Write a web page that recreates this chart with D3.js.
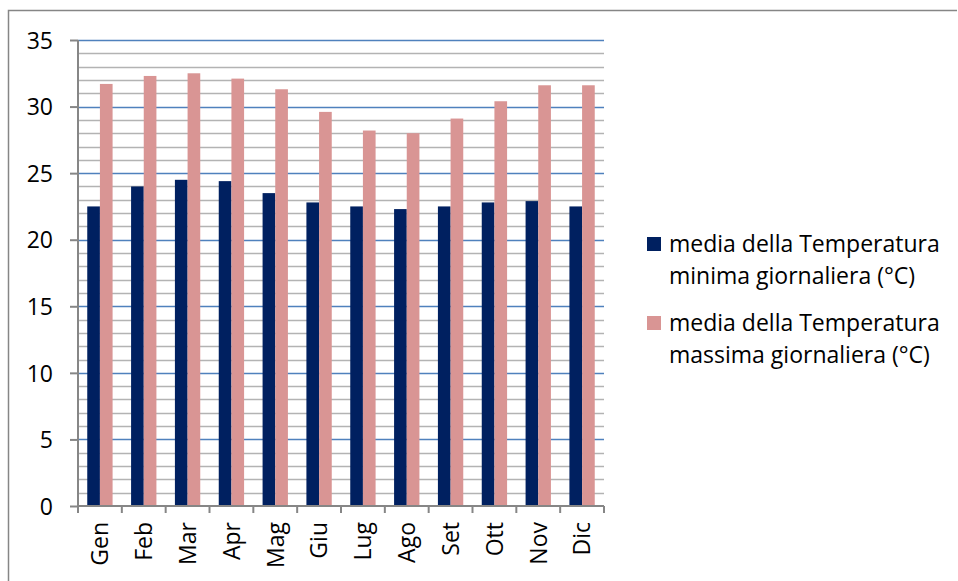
<!DOCTYPE html>
<html><head><meta charset="utf-8">
<script src="https://cdn.jsdelivr.net/npm/d3@7"></script>
<style>
html,body{margin:0;padding:0;background:#fff;}
svg{display:block;font-family:"Open Sans","Noto Sans",sans-serif;}
</style></head>
<body><svg id="c" width="958" height="581"></svg>
<script>
const months = ["Gen","Feb","Mar","Apr","Mag","Giu","Lug","Ago","Set","Ott","Nov","Dic"];
const tMin = [22.5,24.0,24.5,24.4,23.5,22.8,22.5,22.3,22.5,22.8,22.9,22.5];
const tMax = [31.7,32.3,32.5,32.1,31.3,29.6,28.2,28.0,29.1,30.4,31.6,31.6];
const seriesNames = [
  ["media della Temperatura","minima giornaliera (°C)"],
  ["media della Temperatura","massima giornaliera (°C)"]
];
const colors = ["#002060","#D99594"];
const yTicks = [0,5,10,15,20,25,30,35];

const FONT = '"Open Sans","Noto Sans",sans-serif';
const svg = d3.select("#c");
const L=78, R=604, T=40, B=506;
const x = d3.scaleBand().domain(months).range([L,R]);
const y = d3.scaleLinear().domain([0,35]).range([B,T]);
const xs = d3.scaleBand().domain([0,1]).range([0,x.bandwidth()]).paddingInner(0).paddingOuter(0.73);

// outer border
svg.append("path").attr("d","M8.5,600V10.5H957").attr("fill","none").attr("stroke","#868686").attr("stroke-width",1.5);

// minor gridlines
const minor = d3.range(1,35).filter(v=>v%5!==0);
svg.append("g").selectAll("line").data(minor).join("line")
  .attr("x1",L).attr("x2",R).attr("y1",d=>Math.round(y(d))+0.5).attr("y2",d=>Math.round(y(d))+0.5)
  .attr("stroke","#B3B3B3").attr("stroke-width",1.6);
// major gridlines
svg.append("g").selectAll("line").data(yTicks.filter(v=>v>0)).join("line")
  .attr("x1",L).attr("x2",R).attr("y1",d=>Math.round(y(d))+0.5).attr("y2",d=>Math.round(y(d))+0.5)
  .attr("stroke","#4F81BD").attr("stroke-width",1.6);

// bars
const data = months.map((m,i)=>({m, v:[tMin[i],tMax[i]]}));
const g = svg.append("g");
data.forEach(d=>{
  d.v.forEach((v,k)=>{
    g.append("rect").attr("x",x(d.m)+xs(k)).attr("width",xs.bandwidth())
      .attr("y",y(v)).attr("height",y(0)-y(v)).attr("fill",colors[k]);
  });
});

// y axis
const yAxis = d3.axisLeft(y).tickValues(yTicks).tickSize(8).tickPadding(17).tickFormat(d3.format("d"));
const ya = svg.append("g").attr("transform",`translate(${L},0)`).call(yAxis)
  .attr("font-family",FONT).attr("font-size",23);
ya.select(".domain").attr("stroke","#868686").attr("stroke-width",2).attr("d",`M0,${T}V${B}`);
ya.selectAll(".tick line").attr("stroke","#868686").attr("stroke-width",2);
ya.selectAll(".tick text").attr("font-size",23).attr("fill","#000").attr("dy","0.36em");

// x axis
const xa = svg.append("g").attr("transform",`translate(0,${B})`).attr("font-family",FONT);
xa.append("line").attr("x1",L).attr("x2",R).attr("y1",0).attr("y2",0).attr("stroke","#868686").attr("stroke-width",2);
xa.selectAll("line.t").data(d3.range(13)).join("line").attr("class","t")
  .attr("x1",i=>L+i*x.step()).attr("x2",i=>L+i*x.step()).attr("y1",0).attr("y2",7)
  .attr("stroke","#868686").attr("stroke-width",2);
xa.selectAll("text").data(months).join("text")
  .attr("transform",d=>`translate(${x(d)+x.bandwidth()/2},16) rotate(-90)`)
  .attr("text-anchor","end").attr("dy","0.36em").attr("font-size",23).attr("fill","#000").text(d=>d);

// legend
const lg = svg.append("g").attr("font-family",FONT);
seriesNames.forEach((s,k)=>{
  const y0 = 244 + k*79;
  lg.append("rect").attr("x",647).attr("y",y0-7).attr("width",14).attr("height",14).attr("fill",colors[k]);
  s.forEach((line,j)=>{
    lg.append("text").attr("x",669).attr("y",y0+j*32).attr("dy","0.36em")
      .attr("font-size",23).attr("fill","#000").text(line);
  });
});
</script></body></html>
